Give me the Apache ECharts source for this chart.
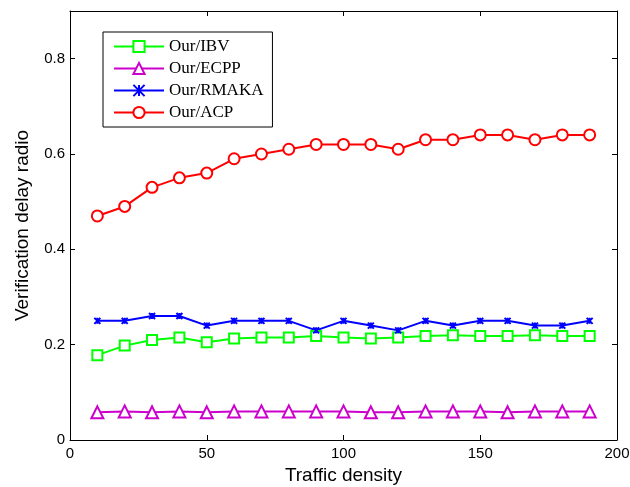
<!DOCTYPE html>
<html>
<head>
<meta charset="utf-8">
<script src="https://cdn.jsdelivr.net/npm/echarts@6/dist/echarts.min.js"></script>
<style>
  html, body { margin: 0; padding: 0; background: #fff; }
  #chart { width: 630px; height: 487px; }
</style>
</head>
<body>
<div id="chart"></div>
<script>
const density = [10, 20, 30, 40, 50, 60, 70, 80, 90, 100, 110, 120, 130, 140, 150, 160, 170, 180, 190];
const ibv   = [0.178, 0.198, 0.21, 0.215, 0.205, 0.213, 0.215, 0.215, 0.218, 0.215, 0.213, 0.215, 0.218, 0.22, 0.218, 0.218, 0.22, 0.218, 0.218];
const ecpp  = [0.058, 0.06, 0.058, 0.06, 0.058, 0.06, 0.06, 0.06, 0.06, 0.06, 0.058, 0.058, 0.06, 0.06, 0.06, 0.058, 0.06, 0.06, 0.06];
const rmaka = [0.25, 0.25, 0.26, 0.26, 0.24, 0.25, 0.25, 0.25, 0.23, 0.25, 0.24, 0.23, 0.25, 0.24, 0.25, 0.25, 0.24, 0.24, 0.25];
const acp   = [0.47, 0.49, 0.53, 0.55, 0.56, 0.59, 0.60, 0.61, 0.62, 0.62, 0.62, 0.61, 0.63, 0.63, 0.64, 0.64, 0.63, 0.64, 0.64];

const pair = ys => density.map((x, i) => [x, ys[i]]);
const xMark = 'path://M0,0L10,10M10,0L0,10M5,0L5,10';

const chart = echarts.init(document.getElementById('chart'), null, { renderer: 'canvas' });

const axisBase = {
  axisLine: { show: true, onZero: false, lineStyle: { color: '#000', width: 1 } },
  axisTick: { show: true, inside: true, length: 5, lineStyle: { color: '#000' } },
  splitLine: { show: false },
};

function line(name, data, color, symbol, size) {
  return {
    name, type: 'line', data: pair(data),
    symbol, symbolSize: size,
    lineStyle: { color, width: 2 },
    itemStyle: { color: '#fff', borderColor: color, borderWidth: 2 },
    animation: false,
  };
}

chart.setOption({
  backgroundColor: '#fff',
  grid: { left: 70, right: 13, top: 11, bottom: 47, containLabel: false, outerBoundsMode: 'none' },
  legend: {
    orient: 'vertical', left: 103, top: 32,
    borderColor: '#000', borderWidth: 1, padding: [6, 9, 6, 10],
    itemWidth: 50, itemHeight: 14, itemGap: 5,
    textStyle: { fontFamily: 'Liberation Serif', fontSize: 17, color: '#000' },
    data: ['Our/IBV', 'Our/ECPP', 'Our/RMAKA', 'Our/ACP'],
  },
  xAxis: [
    {
      ...axisBase, type: 'value', min: 0, max: 200, interval: 50,
      name: 'Traffic density', nameLocation: 'middle', nameGap: 25,
      nameTextStyle: { fontFamily: 'Liberation Sans', fontSize: 19, color: '#000' },
      axisLabel: { fontFamily: 'Liberation Sans', fontSize: 15, color: '#000', margin: 6 },
    },
    {
      ...axisBase, type: 'value', position: 'top', min: 0, max: 200, interval: 50,
      axisLabel: { show: false },
    },
  ],
  yAxis: [
    {
      ...axisBase, type: 'value', min: 0, max: 0.9, interval: 0.2,
      name: 'Verification delay radio', nameLocation: 'middle', nameGap: 38,
      nameTextStyle: { fontFamily: 'Liberation Sans', fontSize: 19, color: '#000' },
      axisLabel: {
        fontFamily: 'Liberation Sans', fontSize: 15, color: '#000', margin: 5,
        showMaxLabel: false,
        formatter: v => v === 0 ? '0' : v.toFixed(1),
      },
    },
    {
      ...axisBase, type: 'value', position: 'right', min: 0, max: 0.9, interval: 0.2,
      axisLabel: { show: false },
    },
  ],
  series: [
    line('Our/IBV', ibv, '#00ff00', 'rect', 10),
    line('Our/ECPP', ecpp, '#cc00cc', 'triangle', 12),
    line('Our/RMAKA', rmaka, '#0000ff', xMark, 6),
    line('Our/ACP', acp, '#ff0000', 'circle', 11),
  ],
});
</script>
</body>
</html>
